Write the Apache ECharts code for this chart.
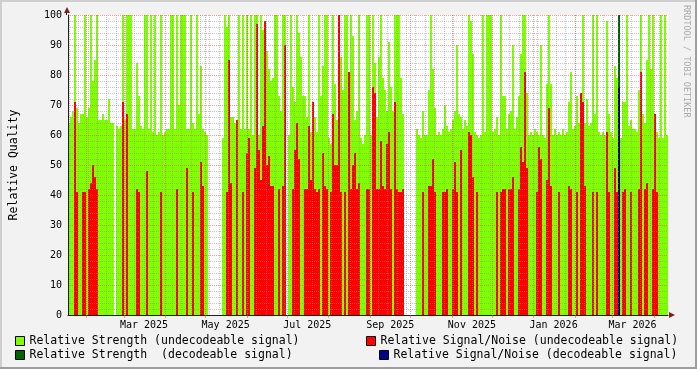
<!DOCTYPE html>
<html><head><meta charset="utf-8">
<script src="https://cdn.jsdelivr.net/npm/echarts@6/dist/echarts.min.js"></script>
<style>html,body{margin:0;padding:0;background:#f2f2f2}#c{width:697px;height:369px}</style>
</head><body><div id="c"></div>
<script>
// Relative Strength (undecodeable signal) — one value per ~1.5 days, null = no data
const strengthUndec = [
64,66,68,100,69,64,67,67,100,66,
69,100,78,85,100,65,65,67,65,65,
72,64,64,null,63,62,63,100,65,100,
100,100,62,62,84,73,63,62,100,100,
62,100,61,100,60,61,100,60,61,62,
62,100,100,62,100,70,100,100,100,62,
62,100,64,62,100,67,83,62,61,60,
null,null,null,null,null,null,null,59,100,96,
100,66,66,64,62,100,62,100,62,100,
62,100,60,100,100,60,100,95,89,88,
82,78,79,100,100,73,68,100,100,null,
60,100,76,71,100,94,86,73,73,66,
100,61,71,66,61,100,73,83,100,100,
59,57,100,77,65,100,86,75,100,100,
65,100,93,65,68,100,59,57,60,100,
100,60,100,84,66,86,100,79,75,68,
91,76,68,100,100,100,79,67,null,null,
null,null,null,null,62,60,59,68,60,60,
75,100,82,69,60,61,60,62,70,63,
61,62,65,68,90,67,66,62,65,63,
100,98,87,61,60,59,60,100,61,100,
100,100,61,62,66,60,100,73,73,62,
67,68,90,62,66,73,87,100,100,74,
60,61,60,62,61,60,90,60,59,77,
100,77,60,62,60,61,60,62,60,61,
71,81,62,63,73,64,70,100,64,72,
63,64,100,67,100,61,60,61,60,98,
67,61,59,83,79,95,59,71,71,100,
63,65,62,62,61,75,100,67,64,85,
100,82,100,67,61,59,100,59,100,60
];
// Relative Signal/Noise (undecodeable signal)
const snUndec = [
null,null,null,71,41,null,null,41,41,null,
42,44,50,46,42,null,null,null,null,null,
null,null,null,null,null,null,null,71,null,67,
null,null,null,null,42,41,null,null,null,48,
null,null,null,null,null,null,41,null,null,null,
null,null,null,null,42,null,null,null,null,49,
null,null,41,null,null,null,51,43,null,null,
null,null,null,null,null,null,null,null,null,41,
85,44,null,null,65,null,null,41,null,54,
59,null,null,49,97,55,45,63,98,50,
53,43,43,null,null,42,null,43,90,null,
null,null,42,55,64,52,null,null,42,42,
63,45,71,42,41,42,null,54,43,42,
null,41,67,50,50,100,41,null,41,null,
81,42,50,54,42,44,null,null,null,42,
42,null,76,74,42,42,58,43,42,57,
61,42,null,71,42,41,41,42,null,null,
null,null,null,null,null,null,null,41,null,null,
43,43,52,41,null,null,null,41,41,42,
null,null,42,51,41,null,55,null,null,null,
61,60,46,null,41,null,null,null,null,null,
null,null,null,null,41,null,41,42,42,null,
42,42,46,null,null,42,56,51,81,49,
null,null,null,null,41,56,52,null,null,45,
69,43,null,null,null,41,null,null,null,null,
43,42,null,null,41,null,74,71,43,null,
null,null,41,null,41,null,null,null,null,61,
41,null,null,49,41,null,null,41,42,null,
null,41,null,null,null,42,81,null,42,44,
null,null,42,67,41,null,null,null,null,null
];
// decodeable signal: [column index, value]
const strengthDecPoints = [[275, 100]];
const snDecPoints = [[275, 76]];

const tickLabels = ['Mar 2025','May 2025','Jul 2025','Sep 2025','Nov 2025','Jan 2026','Mar 2026'];
const tickLabelDates = ['2025-03-16','2025-05-16','2025-07-16','2025-09-16','2025-11-16','2026-01-16','2026-03-16'];
const yTickValues = [0,10,20,30,40,50,60,70,80,90,100];

const N = strengthUndec.length;
const cats = strengthUndec.map((_, i) => String(i));
function sparse(points) {
  const a = new Array(N).fill(null);
  points.forEach(p => { a[p[0]] = p[1]; });
  return a;
}
const DAY = 86400000;
const START = Date.UTC(2025, 0, 18, 5, 11);
const END = Date.UTC(2026, 3, 11, 12, 0);
const monthStarts = [];
for (let y = 2025, m = 1; ; ) {
  const t = Date.UTC(y, m, 1);
  if (t > END) break;
  monthStarts.push(t);
  m++; if (m > 11) { m = 0; y++; }
}
const weekStarts = [];
for (let t = Date.UTC(2025, 0, 19); t <= END; t += 7 * DAY) weekStarts.push(t);
const labelTimes = tickLabelDates.map(d => Date.parse(d + 'T00:00:00Z'));

const MONO = 'DejaVu Sans Mono';
const GRID_C = 'rgba(143,143,143,0.5)';
const MGRID_C = 'rgba(222,79,79,0.55)';
const AXIS_C = '#1f1f1f';
const ARROW_C = '#801f1f';

const chart = echarts.init(document.getElementById('c'), null, {renderer: 'canvas'});
const legendCommon = {
  padding: 0, itemWidth: 9, itemHeight: 9, icon: 'rect', selectedMode: false, itemGap: 0,
  itemStyle: {borderColor: '#000', borderWidth: 1},
  textStyle: {fontFamily: MONO, fontSize: 11.5, color: '#000', lineHeight: 14}
};
const names = ['Relative Strength (undecodeable signal)', 'Relative Signal/Noise (undecodeable signal)',
               'Relative Strength  (decodeable signal)', 'Relative Signal/Noise (decodeable signal)'];
chart.setOption({
  animation: false,
  backgroundColor: '#f2f2f2',
  grid: {left: 67, top: 15, width: 601, height: 300, show: true, backgroundColor: '#fff', borderWidth: 0, containLabel: false},
  legend: [
    Object.assign({data: [names[0]], left: 15, top: 334}, legendCommon),
    Object.assign({data: [names[2]], left: 15, top: 348}, legendCommon),
    Object.assign({data: [names[1]], left: 366, top: 334}, legendCommon),
    Object.assign({data: [names[3]], left: 379, top: 348}, legendCommon)
  ],
  xAxis: [
    {type: 'category', data: cats, show: false, boundaryGap: true},
    {type: 'value', min: START, max: END, position: 'bottom', z: 10, scale: true,
     axisLine: {show: true, lineStyle: {color: AXIS_C, width: 1}},
     axisTick: {show: true, customValues: monthStarts, length: 3, inside: false, lineStyle: {color: MGRID_C}},
     axisLabel: {show: true, customValues: labelTimes, margin: 5, fontFamily: MONO, fontSize: 10, color: '#000',
       hideOverlap: false,
       formatter: v => { let b = 0, bd = Infinity; labelTimes.forEach((t, i) => { const d = Math.abs(t - v); if (d < bd) { bd = d; b = i; } }); return tickLabels[b]; }},
     splitLine: {show: true, lineStyle: {color: MGRID_C, width: 1, type: [1, 1]}}},
    {type: 'value', min: START, max: END, position: 'bottom', z: 9, scale: true,
     axisLine: {show: false}, axisLabel: {show: false},
     axisTick: {show: false, customValues: weekStarts},
     splitLine: {show: true, lineStyle: {color: GRID_C, width: 1, type: [1, 1]}}}
  ],
  yAxis: [{
    type: 'value', min: 0, max: 100, interval: 10, z: 10,
    name: 'Relative Quality', nameLocation: 'middle', nameRotate: 90, nameGap: 48,
    nameTextStyle: {fontFamily: MONO, fontSize: 11.5, color: '#000'},
    axisLine: {show: true, lineStyle: {color: AXIS_C, width: 1}},
    axisTick: {show: false},
    axisLabel: {margin: 6, fontFamily: MONO, fontSize: 10, color: '#000',
      formatter: v => yTickValues.indexOf(v) >= 0 ? String(v) : ''},
    splitLine: {show: true, lineStyle: {color: MGRID_C, width: 1, type: [1, 1]}},
    minorTick: {show: false, splitNumber: 5},
    minorSplitLine: {show: true, lineStyle: {color: GRID_C, width: 1, type: [1, 1]}}
  }],
  series: [
    {name: names[0], type: 'bar', xAxisIndex: 0, data: strengthUndec, barWidth: '100%', barGap: '-100%', barCategoryGap: 0, itemStyle: {color: '#7fff00'}},
    {name: names[1], type: 'bar', xAxisIndex: 0, data: snUndec, barWidth: '100%', barGap: '-100%', itemStyle: {color: '#ff0000'}},
    {name: names[2], type: 'bar', xAxisIndex: 0, data: sparse(strengthDecPoints), barWidth: '100%', barGap: '-100%', itemStyle: {color: '#006400'}},
    {name: names[3], type: 'bar', xAxisIndex: 0, data: sparse(snDecPoints), barWidth: '100%', barGap: '-100%', itemStyle: {color: '#000090'}}
  ],
  graphic: [
    {type: 'rect', shape: {x: 0, y: 0, width: 697, height: 2}, style: {fill: '#cfcfcf'}, silent: true},
    {type: 'rect', shape: {x: 0, y: 0, width: 2, height: 369}, style: {fill: '#cfcfcf'}, silent: true},
    {type: 'rect', shape: {x: 0, y: 367, width: 697, height: 2}, style: {fill: '#9e9e9e'}, silent: true},
    {type: 'rect', shape: {x: 695, y: 0, width: 2, height: 369}, style: {fill: '#9e9e9e'}, silent: true},
    {type: 'polygon', shape: {points: [[64, 13], [70, 13], [67, 7]]}, style: {fill: ARROW_C}, z: 20, silent: true},
    {type: 'polygon', shape: {points: [[669, 312], [669, 318], [675, 315]]}, style: {fill: ARROW_C}, z: 20, silent: true},
    {type: 'line', shape: {x1: 66.5, y1: 13, x2: 66.5, y2: 15}, style: {stroke: AXIS_C, lineWidth: 1}, z: 20, silent: true},
    {type: 'text', x: 691, y: 5, rotation: -Math.PI / 2,
     style: {text: 'RRDTOOL / TOBI OETIKER', fontFamily: MONO, fontSize: 8.5, fill: '#aaaaaa', textAlign: 'left', textVerticalAlign: 'top'}, silent: true}
  ]
});
</script></body></html>
